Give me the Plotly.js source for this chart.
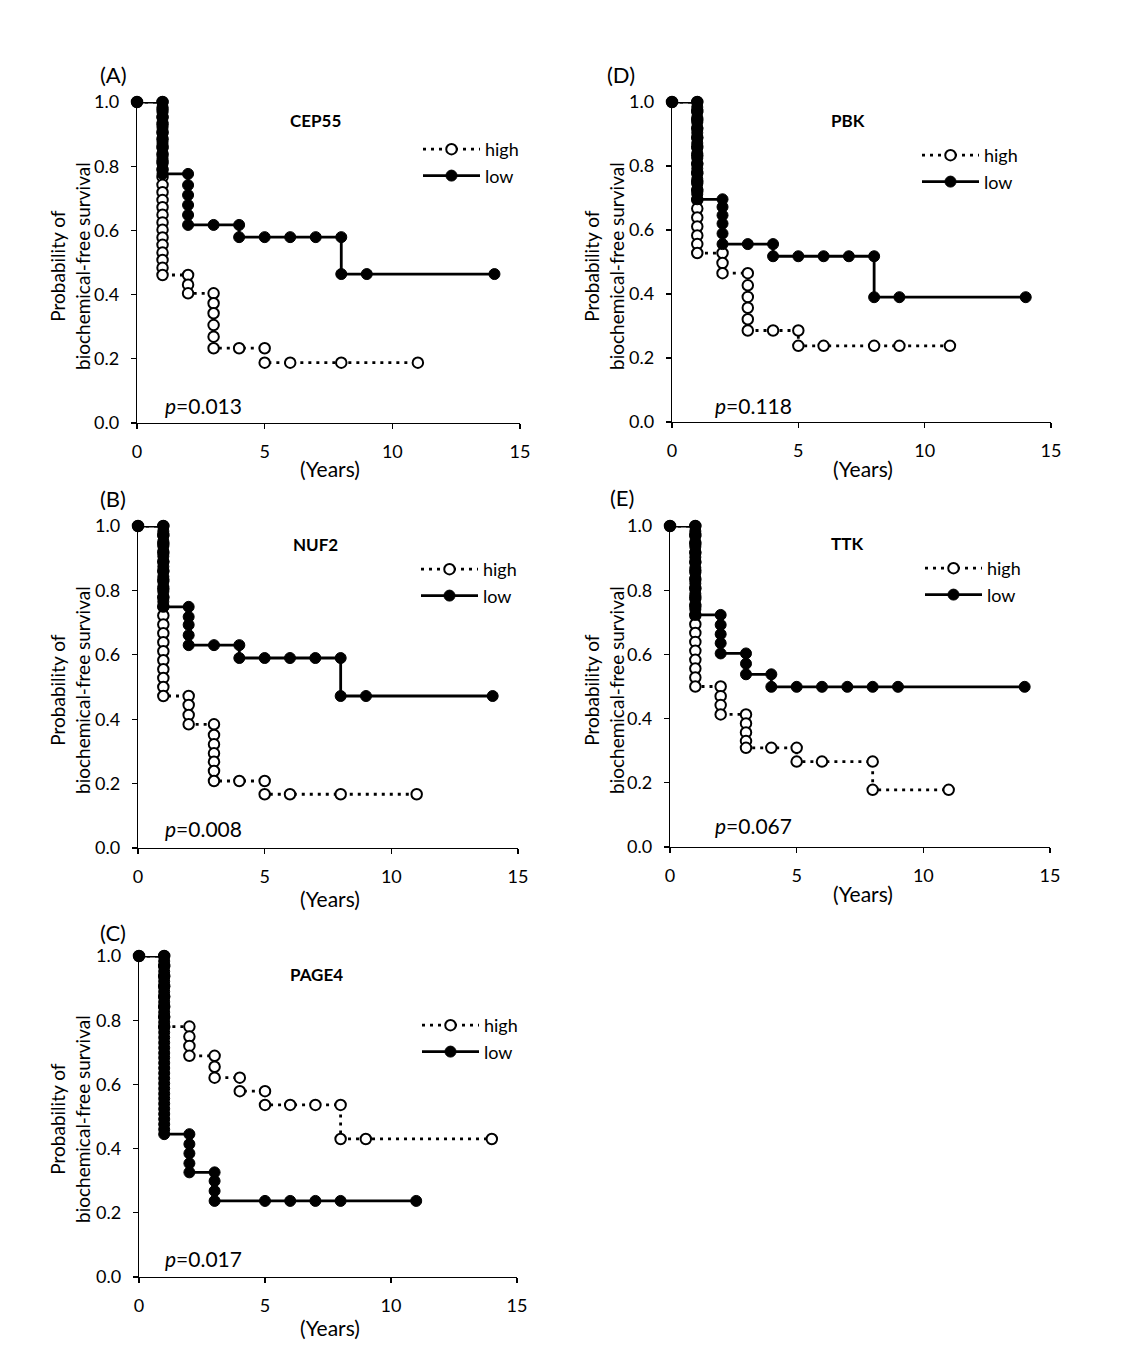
<!DOCTYPE html>
<html><head><meta charset="utf-8">
<script src="https://cdn.plot.ly/plotly-3.0.1.min.js"></script>
<style>html,body{margin:0;padding:0;background:#fff}#chart{width:1125px;height:1370px}</style>
</head><body><div id="chart"></div>
<script>
// ---------------- DATA ----------------
const panelLabels = ['(A)', '(D)', '(B)', '(E)', '(C)'];
const geneNames = ['CEP55', 'PBK', 'NUF2', 'TTK', 'PAGE4'];
const pValues = ['0.013', '0.118', '0.008', '0.067', '0.017'];
const groupNames = ['high', 'low'];
const xTickVals = [0, 5, 10, 15];
const yTickVals = [0, 0.2, 0.4, 0.6, 0.8, 1.0];
const xAxisTitle = '(Years)';
const yAxisTitle = 'Probability of<br>biochemical-free survival';

// (A) CEP55
const cep55HighX = [0, 1,1,1,1,1,1,1,1,1,1,1,1,1,1,1,1,1,1,1,1,1,1,1,1, 2,2,2, 3,3,3,3,3,3, 4, 5,5, 6, 8, 11];
const cep55HighY = [1.0, 1.000,0.977,0.953,0.930,0.906,0.883,0.860,0.836,0.813,0.789,0.766,0.742,0.719,0.695,0.672,0.649,0.625,0.602,0.578,0.555,0.531,0.508,0.484,0.461,
  0.461,0.431,0.404, 0.404,0.373,0.342,0.305,0.269,0.233, 0.233, 0.233,0.188, 0.188, 0.188, 0.188];
const cep55LowX = [0, 1,1,1,1,1,1,1,1,1,1,1,1,1,1,1, 2,2,2,2,2,2, 3, 4,4, 5, 6, 7, 8,8, 9, 14];
const cep55LowY = [1.0, 1.000,0.984,0.968,0.952,0.936,0.920,0.904,0.888,0.872,0.856,0.840,0.824,0.808,0.792,0.776,
  0.776,0.741,0.710,0.679,0.648,0.617, 0.617, 0.617,0.579, 0.579, 0.579, 0.579, 0.579,0.464, 0.464, 0.464];

// (D) PBK
const pbkHighX = [0, 1,1,1,1,1,1,1,1,1,1,1,1,1,1,1,1,1,1, 2,2,2, 3,3,3,3,3,3, 4, 5,5, 6, 8, 9, 11];
const pbkHighY = [1.0, 1.000,0.972,0.944,0.917,0.889,0.861,0.833,0.806,0.778,0.750,0.722,0.694,0.667,0.639,0.611,0.583,0.556,0.528,
  0.528,0.497,0.465, 0.465,0.427,0.391,0.357,0.321,0.286, 0.286, 0.286,0.238, 0.238, 0.238, 0.238, 0.238];
const pbkLowX = [0, 1,1,1,1,1,1,1,1,1,1,1,1,1,1,1,1,1,1,1,1, 2,2,2,2,2,2, 3, 4,4, 5, 6, 7, 8,8, 9, 14];
const pbkLowY = [1.0, 1.000,0.984,0.968,0.952,0.936,0.920,0.904,0.888,0.872,0.856,0.840,0.824,0.808,0.792,0.776,0.760,0.744,0.728,0.712,0.696,
  0.696,0.672,0.646,0.620,0.589,0.556, 0.556, 0.556,0.518, 0.518, 0.518, 0.518, 0.518,0.390, 0.390, 0.390];

// (B) NUF2
const nuf2HighX = [0, 1,1,1,1,1,1,1,1,1,1,1,1,1,1,1,1,1,1,1,1, 2,2,2,2, 3,3,3,3,3,3,3, 4, 5,5, 6, 8, 11];
const nuf2HighY = [1.0, 1.000,0.972,0.944,0.917,0.889,0.861,0.833,0.805,0.778,0.750,0.722,0.694,0.667,0.639,0.611,0.583,0.555,0.528,0.500,0.472,
  0.472,0.444,0.413,0.384, 0.384,0.351,0.322,0.294,0.268,0.239,0.208, 0.208, 0.208,0.167, 0.167, 0.167, 0.167];
const nuf2LowX = [0, 1,1,1,1,1,1,1,1,1,1,1,1,1,1,1,1,1, 2,2,2,2,2, 3, 4,4, 5, 6, 7, 8,8, 9, 14];
const nuf2LowY = [1.0, 1.000,0.984,0.969,0.953,0.937,0.922,0.906,0.890,0.874,0.859,0.843,0.827,0.812,0.796,0.780,0.765,0.749,
  0.749,0.718,0.693,0.661,0.630, 0.630, 0.630,0.590, 0.590, 0.590, 0.590, 0.590,0.472, 0.472, 0.472];

// (E) TTK
const ttkHighX = [0, 1,1,1,1,1,1,1,1,1,1,1,1,1,1,1,1,1,1,1, 2,2,2,2, 3,3,3,3,3, 4, 5,5, 6, 8,8, 11];
const ttkHighY = [1.0, 1.000,0.972,0.944,0.917,0.889,0.861,0.833,0.806,0.778,0.750,0.722,0.694,0.667,0.639,0.611,0.583,0.556,0.528,0.500,
  0.500,0.470,0.442,0.413, 0.413,0.385,0.357,0.330,0.309, 0.309, 0.309,0.266, 0.266, 0.266,0.178, 0.178];
const ttkLowX = [0, 1,1,1,1,1,1,1,1,1,1,1,1,1,1,1,1,1,1, 2,2,2,2,2, 3,3,3, 4,4, 5, 6, 7, 8, 9, 14];
const ttkLowY = [1.0, 1.000,0.984,0.968,0.951,0.935,0.919,0.903,0.886,0.870,0.854,0.838,0.821,0.805,0.789,0.772,0.756,0.740,0.723,
  0.723,0.692,0.663,0.635,0.603, 0.603,0.571,0.538, 0.538,0.499, 0.499, 0.499, 0.499, 0.499, 0.499, 0.499];

// (C) PAGE4
const page4HighX = [0, 1,1,1,1,1,1,1,1, 2,2,2,2, 3,3,3, 4,4, 5,5, 6, 7, 8,8, 9, 14];
const page4HighY = [1.0, 1.000,0.969,0.937,0.906,0.874,0.843,0.811,0.780,
  0.780,0.749,0.720,0.689, 0.689,0.655,0.621, 0.621,0.579, 0.579,0.536, 0.536, 0.536, 0.536,0.430, 0.430, 0.430];
const page4LowX = [0, 1,1,1,1,1,1,1,1,1,1,1,1,1,1,1,1,1,1,1,1,1,1,1,1,1,1,1,1,1,1,1,1,1,1,1,1, 2,2,2,2,2, 3,3,3,3, 5, 6, 7, 8, 11];
const page4LowY = [1.0, 1.000,0.984,0.968,0.952,0.937,0.921,0.905,0.889,0.873,0.857,0.841,0.825,0.810,0.794,0.778,0.762,0.746,0.730,0.714,0.698,
  0.683,0.667,0.651,0.635,0.619,0.603,0.587,0.571,0.556,0.540,0.524,0.508,0.492,0.476,0.460,0.445,
  0.445,0.414,0.385,0.354,0.326, 0.326,0.299,0.268,0.237, 0.237, 0.237, 0.237, 0.237, 0.237];

const seriesHighX = [cep55HighX, pbkHighX, nuf2HighX, ttkHighX, page4HighX];
const seriesHighY = [cep55HighY, pbkHighY, nuf2HighY, ttkHighY, page4HighY];
const seriesLowX = [cep55LowX, pbkLowX, nuf2LowX, ttkLowX, page4LowX];
const seriesLowY = [cep55LowY, pbkLowY, nuf2LowY, ttkLowY, page4LowY];

// ---------------- LAYOUT (pixel geometry) ----------------
const W = 1125, H = 1370;
const FONT = 'Lato, "Open Sans", sans-serif';
const geom = [
  {x0:137, x1:520, yT:102, yB:423, gene:[315,121], lab:[113,74], p:[163,405], yt:[70,266], xt:[330,468], leg:[418,131]},
  {x0:672, x1:1051, yT:102, yB:422, gene:[848,120], lab:[621,75], p:[713,405], yt:[604,266], xt:[863,468], leg:[917,137]},
  {x0:138, x1:518, yT:526, yB:848, gene:[315,544], lab:[113,499], p:[163,828], yt:[70,690], xt:[330,898], leg:[416,551]},
  {x0:670, x1:1050, yT:526, yB:847, gene:[847,543], lab:[622,497], p:[713,826], yt:[604,690], xt:[863,893], leg:[920,550]},
  {x0:139, x1:517, yT:956, yB:1277, gene:[316,974], lab:[113,932], p:[163,1258], yt:[70,1119], xt:[330,1327], leg:[417,1007]}
];
const px = v => v / W;
const py = v => 1 - v / H;

const traces = [];
const layout = {
  width: W, height: H,
  margin: {l:0, r:0, t:0, b:0},
  paper_bgcolor: '#fff', plot_bgcolor: '#fff',
  font: {family: FONT, color: '#000', size: 18},
  showlegend: true,
  annotations: []
};

geom.forEach((g, i) => {
  const sfx = i === 0 ? '' : String(i + 1);
  const legKey = 'legend' + sfx;
  traces.push({
    x: seriesHighX[i], y: seriesHighY[i], name: groupNames[0],
    xaxis: 'x' + sfx, yaxis: 'y' + sfx, legend: legKey,
    mode: 'lines+markers', cliponaxis: false,
    line: {color: '#000', width: 2.8, dash: '3px,5px'},
    marker: {symbol: 'circle', size: 10.5, color: '#fff', line: {color: '#000', width: 2}},
    hoverinfo: 'skip'
  });
  traces.push({
    x: seriesLowX[i], y: seriesLowY[i], name: groupNames[1],
    xaxis: 'x' + sfx, yaxis: 'y' + sfx, legend: legKey,
    mode: 'lines+markers', cliponaxis: false,
    line: {color: '#000', width: 2.8},
    marker: {symbol: 'circle', size: 11, color: '#000', line: {color: '#000', width: 1}},
    hoverinfo: 'skip'
  });
  const axCommon = {
    showgrid: false, zeroline: false, showline: true, linecolor: '#000', linewidth: 1.3,
    ticks: 'outside', ticklen: 5, tickwidth: 1.3, tickcolor: '#000',
    tickfont: {family: FONT, size: 18, color: '#000'}, fixedrange: true
  };
  layout['xaxis' + sfx] = Object.assign({}, axCommon, {
    domain: [px(g.x0), px(g.x1)], range: [0, 15], anchor: 'y' + sfx,
    tickvals: xTickVals, ticklabelstandoff: 7
  });
  layout['yaxis' + sfx] = Object.assign({}, axCommon, {
    domain: [py(g.yB), py(g.yT)], range: [0, 1], anchor: 'x' + sfx,
    tickvals: yTickVals, tickformat: '.1f', ticklabelstandoff: 8
  });
  layout[legKey] = {
    x: px(g.leg[0]), y: py(g.leg[1]), xanchor: 'left', yanchor: 'top',
    bgcolor: 'rgba(0,0,0,0)', borderwidth: 0, itemwidth: 57,
    font: {family: FONT, size: 18, color: '#000'}, tracegroupgap: 0
  };
  layout.annotations.push(
    {text: panelLabels[i], x: px(g.lab[0]), y: py(g.lab[1]), xref: 'paper', yref: 'paper',
     showarrow: false, xanchor: 'center', yanchor: 'middle', font: {family: FONT, size: 22}},
    {text: '<b>' + geneNames[i] + '</b>', x: px(g.gene[0]), y: py(g.gene[1]), xref: 'paper', yref: 'paper',
     showarrow: false, xanchor: 'center', yanchor: 'middle', font: {family: FONT, size: 17}},
    {text: '<i>p</i>=' + pValues[i], x: px(g.p[0]), y: py(g.p[1]), xref: 'paper', yref: 'paper',
     showarrow: false, xanchor: 'left', yanchor: 'middle', font: {family: FONT, size: 21}},
    {text: yAxisTitle, x: px(g.yt[0]), y: py(g.yt[1]), xref: 'paper', yref: 'paper', textangle: -90,
     showarrow: false, xanchor: 'center', yanchor: 'middle', font: {family: FONT, size: 19}},
    {text: xAxisTitle, x: px(g.xt[0]), y: py(g.xt[1]), xref: 'paper', yref: 'paper',
     showarrow: false, xanchor: 'center', yanchor: 'middle', font: {family: FONT, size: 21}}
  );
});

Plotly.newPlot('chart', traces, layout, {displayModeBar: false, staticPlot: true});
</script>
</body></html>
